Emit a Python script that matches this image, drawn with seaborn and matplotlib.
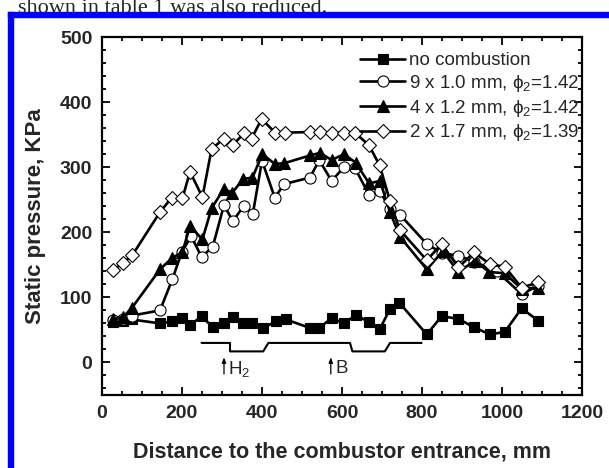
import matplotlib
matplotlib.use("Agg")
import matplotlib.pyplot as plt
from matplotlib.patches import Rectangle
import numpy as np
import pandas as pd
import seaborn as sns

# ---------------- data ----------------
x_nocomb = [28, 53, 75, 145, 174, 199, 220, 249, 277, 305, 327, 353, 374, 402, 435, 460,
            520, 543, 574, 605, 635, 667, 695, 720, 743, 812, 849, 891, 930, 970, 1007, 1049, 1091]
y_nocomb = [62, 64, 66, 60, 63, 69, 57, 71, 54, 61, 70, 60, 60, 53, 63, 66,
            53, 53, 68, 60, 73, 62, 52, 82, 92, 43, 71, 67, 54, 43, 47, 83, 64]

x_9x10 = [28, 53, 75, 145, 176, 199, 223, 249, 277, 305, 327, 355, 377, 400, 432, 455,
          520, 543, 574, 605, 633, 668, 695, 720, 745, 812, 850, 891, 930, 987, 1049, 1091]
y_9x10 = [65, 67, 72, 80, 128, 169, 194, 162, 178, 242, 217, 241, 228, 310, 253, 274,
          284, 311, 279, 300, 298, 257, 263, 236, 227, 182, 168, 164, 155, 140, 105, 118]

x_4x12 = [28, 53, 75, 145, 176, 201, 220, 251, 274, 304, 326, 353, 376, 401, 432, 455,
          520, 545, 574, 605, 634, 668, 695, 720, 745, 812, 852, 891, 932, 968, 1007, 1049, 1091]
y_4x12 = [66, 70, 84, 143, 161, 169, 210, 189, 237, 266, 261, 282, 284, 320, 305, 306,
          318, 322, 311, 320, 307, 275, 279, 231, 193, 143, 171, 139, 156, 139, 137, 113, 115]

x_2x17 = [28, 53, 76, 145, 174, 201, 220, 251, 274, 305, 327, 355, 374, 399, 433, 458,
          520, 545, 574, 605, 632, 667, 694, 720, 744, 812, 849, 891, 930, 970, 1007, 1049, 1091]
y_2x17 = [142, 153, 165, 231, 253, 252, 293, 254, 328, 344, 334, 352, 344, 374, 353, 353,
          354, 354, 353, 353, 353, 334, 303, 248, 204, 157, 182, 146, 169, 151, 147, 115, 123]

labels = ["no combustion",
          "9 x 1.0 mm, \u03d5$_2$=1.42",
          "4 x 1.2 mm, \u03d5$_2$=1.42",
          "2 x 1.7 mm, \u03d5$_2$=1.39"]

# combustor geometry sketch
geom_x = [249, 320, 320, 403, 416, 620, 626, 707, 720, 799]
geom_y = [30, 30, 17, 17, 30, 30, 17, 17, 30, 30]
arrow_x = [305, 572]
arrow_text = ["H$_2$", "B"]

# ---------------- style ----------------
sns.set_style("ticks")
plt.rcParams["font.family"] = ["Liberation Sans", "DejaVu Sans"]
plt.rcParams["mathtext.fontset"] = "custom"
plt.rcParams["mathtext.rm"] = "Liberation Sans"
plt.rcParams["mathtext.it"] = "Liberation Sans"
plt.rcParams["mathtext.default"] = "regular"

W, H = 609, 468
fig = plt.figure(figsize=(W / 100, H / 100), dpi=100)
fig.patch.set_facecolor("white")

# document decorations
fig.text(18 / W, 1 - 13 / H, "shown in table 1 was also reduced.",
         family="Liberation Serif", fontsize=16, va="baseline", ha="left")
fig.patches.append(Rectangle((8 / W, 1 - 17 / H), 1, 5 / H, transform=fig.transFigure,
                             color="#0000ff", zorder=5))
fig.patches.append(Rectangle((8 / W, 0), 5 / W, 1 - 12 / H, transform=fig.transFigure,
                             color="#0000ff", zorder=5))

left, right, top, bottom = 102, 582, 37, 395
ax = fig.add_axes([left / W, 1 - bottom / H, (right - left) / W, (bottom - top) / H])

series = [
    (x_nocomb, y_nocomb, "s", "black", 7.0),
    (x_9x10, y_9x10, "o", "white", 8.0),
    (x_4x12, y_4x12, "^", "black", 9.0),
    (x_2x17, y_2x17, "D", "white", 7.5),
]
handles = []
for (xs, ys, mk, fc, ms), lab in zip(series, labels):
    df = pd.DataFrame({"x": xs, "y": ys})
    sns.lineplot(data=df, x="x", y="y", ax=ax, sort=False, estimator=None,
                 color="black", lw=1.9, marker=mk, markersize=ms,
                 markerfacecolor=fc, markeredgecolor="black", markeredgewidth=0.8)
    handles.append(ax.get_lines()[-1])

ax.plot(geom_x, geom_y, color="black", lw=1.5)
for xa, t in zip(arrow_x, arrow_text):
    ax.annotate("", xy=(xa, 12), xytext=(xa, -22),
                arrowprops=dict(arrowstyle="-|>,head_length=0.3,head_width=0.12",
                                color="black", lw=0.9))
    ax.text(xa + 11, -10, t, fontsize=13.5, va="center", ha="left")

ax.set_xlim(0, 1200)
ax.set_ylim(-50, 500)
ax.set_xticks(np.arange(0, 1201, 200))
ax.set_xticks(np.arange(0, 1201, 50), minor=True)
ax.set_yticks(np.arange(0, 501, 100))
ax.set_yticks(np.arange(-40, 501, 20), minor=True)
ax.tick_params(which="both", direction="in", top=True, right=True, width=1.3, color="black")
ax.tick_params(which="major", length=5.5, labelsize=14, pad=7)
ax.tick_params(which="minor", length=3)
for lbl in ax.get_xticklabels() + ax.get_yticklabels():
    lbl.set_fontweight("bold")
for s in ax.spines.values():
    s.set_linewidth(1.6)
    s.set_color("black")

ax.set_xlabel("Distance to the combustor entrance, mm", fontsize=15.5, fontweight="bold", labelpad=14)
ax.set_ylabel("Static pressure, KPa", fontsize=16, fontweight="bold", labelpad=10)

leg = ax.legend(handles, labels, loc="upper left",
                bbox_to_anchor=((360 - left) / (right - left), 1 - (52 - top) / (bottom - top)),
                frameon=False, fontsize=13.5, handlelength=2.4, handletextpad=0.2,
                labelspacing=0.2, borderaxespad=0, borderpad=0)

fig.savefig("out.png", dpi=100)
